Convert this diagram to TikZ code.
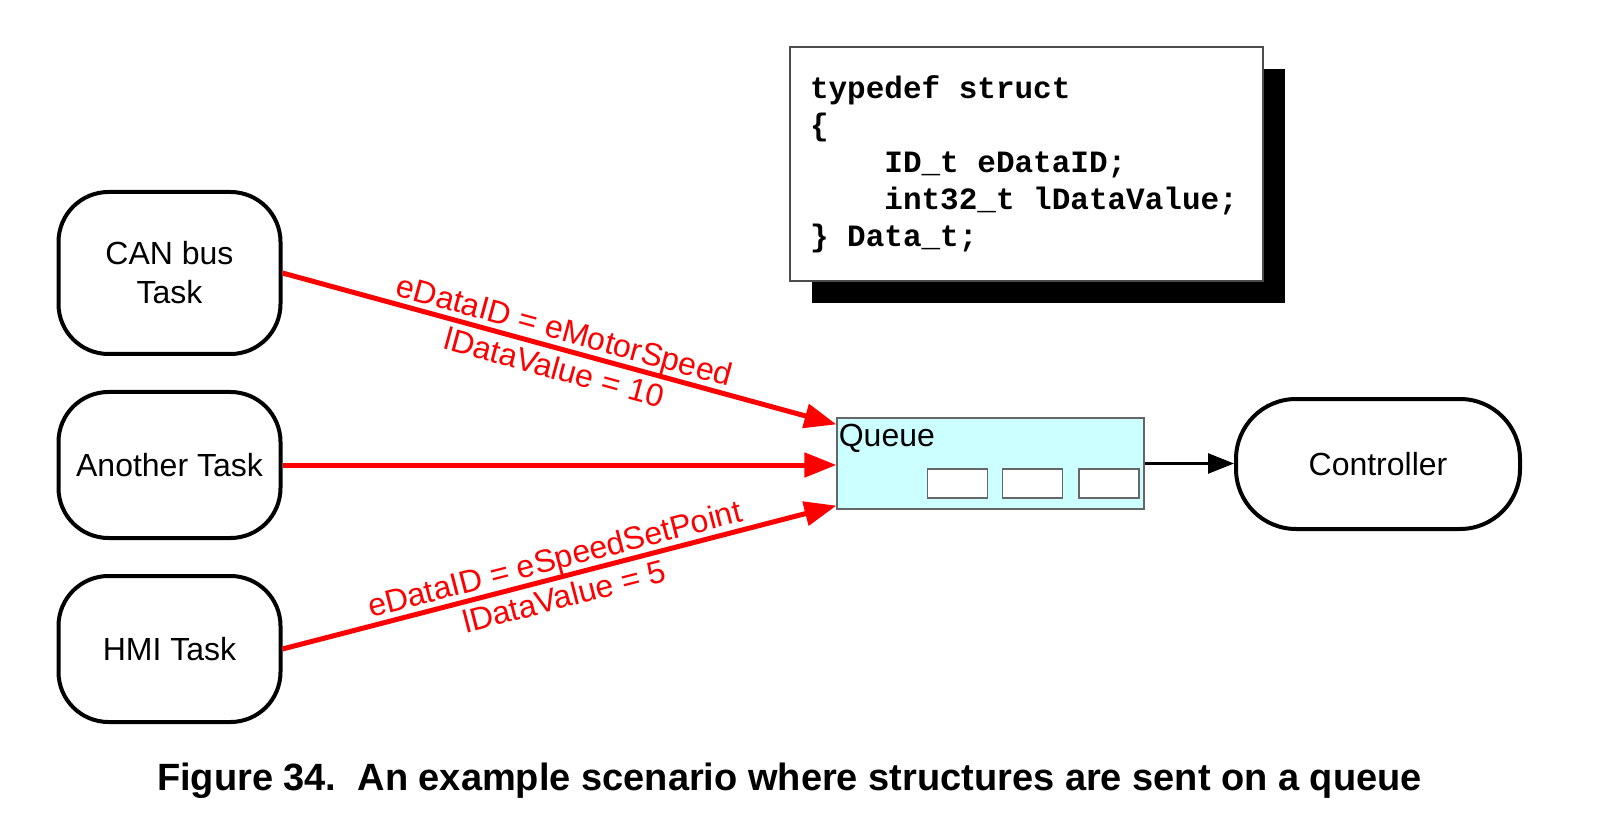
\documentclass[tikz,border=0pt]{standalone}
\usepackage{fontspec}
\setmainfont{Liberation Sans}
\setmonofont{Liberation Mono}
\usepackage{tikz}
\usetikzlibrary{arrows.meta,positioning,shadows}
\definecolor{queuefill}{HTML}{CCFFFF}
\newcommand{\diagfont}{\fontsize{16}{19.5}\selectfont}
\newcommand{\codefont}{\ttfamily\bfseries\fontsize{15.5}{18.5}\selectfont}
% one character wide space in the code box
\newcommand{\csp}{\hphantom{x}}

\begin{document}
\begin{tikzpicture}[x=0.5pt, y=-0.5pt,
    task/.style={draw, line width=2pt, rounded corners=25pt, minimum width=111pt, minimum height=73pt, align=center, inner sep=0pt, font=\diagfont},
    flow/.style={red, line width=2.5pt, -{Triangle[length=16pt,width=12pt]}},
    slot/.style={draw=black!60, fill=white, line width=0.6pt, minimum width=30pt, minimum height=14.5pt, inner sep=0pt}]
    \useasboundingbox (0,0) rectangle (1605,823);

    % Tasks
    \node[task, minimum height=81pt] (can) at (169.5,273) {CAN bus\\Task};
    \node[task] (another) at (169.5,465) {Another Task};
    \node[task] (hmi) at (169.5,649) {HMI Task};

    % Queue with its slots
    \node[draw=black!60, fill=queuefill, line width=0.6pt, minimum width=153.5pt, minimum height=45.5pt, inner sep=0pt] (queue) at (990.5,463.5) {};
    \node[anchor=north west, inner xsep=1pt, inner ysep=3pt, font=\diagfont] (qtitle) at (queue.north west) {Queue};
    \node[slot, anchor=south east] (slot3) at ([xshift=-2.5pt, yshift=5.5pt]queue.south east) {};
    \node[slot, left=7.5pt of slot3] (slot2) {};
    \node[slot, left=7pt of slot2] (slot1) {};

    % Controller
    \node[task, rounded corners=30pt, minimum width=142pt, minimum height=65pt] (ctrl) at (1378,464) {Controller};

    % Struct definition
    \node[draw=black!70, fill=white, line width=0.6pt, text width=216.5pt, inner xsep=10pt, minimum height=117pt, align=left, font=\codefont,
        drop shadow={shadow xshift=11pt, shadow yshift=-11pt, fill=black, opacity=1}] (structbox) at (1026.5,164)
        {typedef\csp struct\\
         \{\\
         \csp\csp\csp\csp ID\_t\csp eDataID;\\
         \csp\csp\csp\csp int32\_t\csp lDataValue;\\
         \}\csp Data\_t;};

    % Arrows
    \draw[flow] (can.east) -- ([yshift=-3.5pt]queue.north west)
        node[midway, sloped, align=center, font=\diagfont] (lblcan) {eDataID = eMotorSpeed\\lDataValue = 10};
    \draw[flow] (another.east) -- (another.east -| queue.west);
    \draw[flow] (hmi.east) -- ([yshift=2pt]queue.south west)
        node[midway, sloped, align=center, font=\diagfont] (lblhmi) {eDataID = eSpeedSetPoint\\lDataValue = 5};
    \draw[line width=1.3pt, -{Triangle[length=13pt,width=10pt]}] (queue.east) -- (queue.east -| ctrl.west);

    % Caption
    \node[anchor=base, font=\bfseries\fontsize{19}{23}\selectfont] (caption) at (789.5,790)
        {Figure 34.\ \ An example scenario where structures are sent on a queue};
\end{tikzpicture}
\end{document}
